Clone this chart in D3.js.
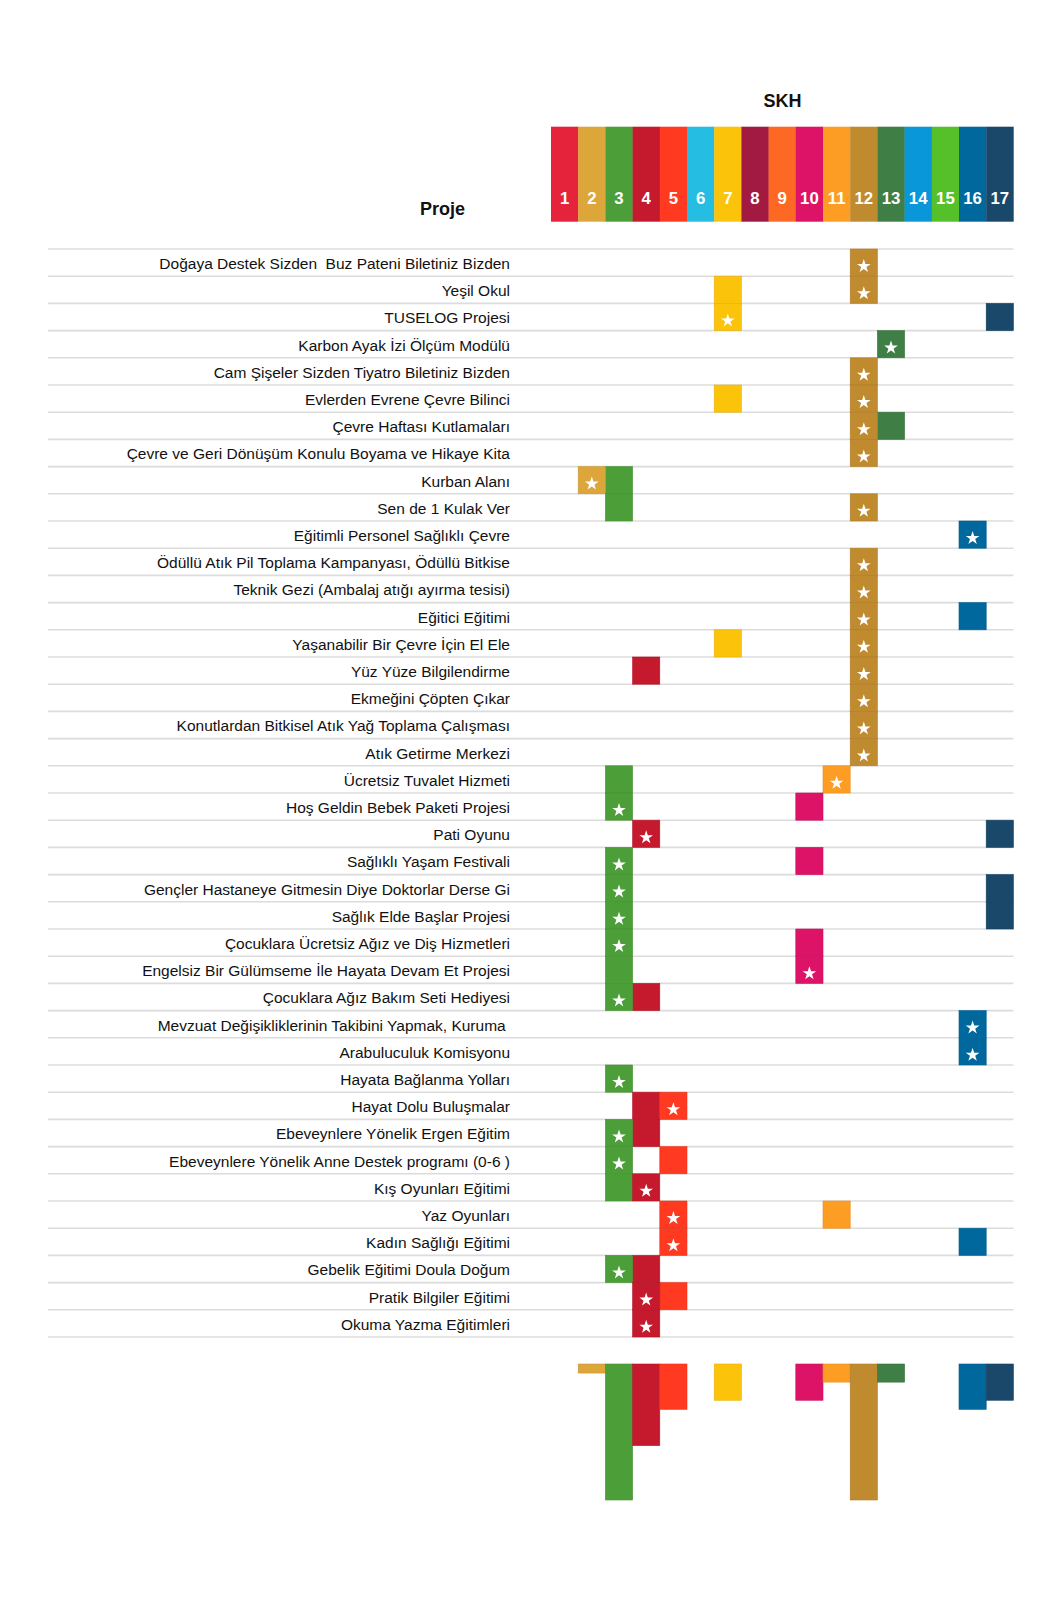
<!DOCTYPE html>
<html>
<head>
<meta charset="utf-8">
<script src="https://cdn.jsdelivr.net/npm/d3@7"></script>
<style>
  html, body { margin: 0; padding: 0; background: #fff; }
  svg { display: block; font-family: "Liberation Sans", Arial, sans-serif; }
  text { white-space: pre; }
</style>
</head>
<body>
<svg id="chart" width="1062" height="1600"></svg>
<script>
// ---- DATA ----
const sdgs = [1,2,3,4,5,6,7,8,9,10,11,12,13,14,15,16,17];
const sdgColors = ["#E5243B","#DDA63A","#4C9F38","#C5192D","#FF3A21","#26BDE2","#FCC30B","#A21942","#FD6925","#DD1367","#FD9D24","#BF8B2E","#3F7E44","#0A97D9","#56C02B","#00689D","#19486A"];
const projects = [
  "Doğaya Destek Sizden  Buz Pateni Biletiniz Bizden",
  "Yeşil Okul",
  "TUSELOG Projesi",
  "Karbon Ayak İzi Ölçüm Modülü",
  "Cam Şişeler Sizden Tiyatro Biletiniz Bizden",
  "Evlerden Evrene Çevre Bilinci",
  "Çevre Haftası Kutlamaları",
  "Çevre ve Geri Dönüşüm Konulu Boyama ve Hikaye Kita",
  "Kurban Alanı",
  "Sen de 1 Kulak Ver",
  "Eğitimli Personel Sağlıklı Çevre",
  "Ödüllü Atık Pil Toplama Kampanyası, Ödüllü Bitkise",
  "Teknik Gezi (Ambalaj atığı ayırma tesisi)",
  "Eğitici Eğitimi",
  "Yaşanabilir Bir Çevre İçin El Ele",
  "Yüz Yüze Bilgilendirme",
  "Ekmeğini Çöpten Çıkar",
  "Konutlardan Bitkisel Atık Yağ Toplama Çalışması",
  "Atık Getirme Merkezi",
  "Ücretsiz Tuvalet Hizmeti",
  "Hoş Geldin Bebek Paketi Projesi",
  "Pati Oyunu",
  "Sağlıklı Yaşam Festivali",
  "Gençler Hastaneye Gitmesin Diye Doktorlar Derse Gi",
  "Sağlık Elde Başlar Projesi",
  "Çocuklara Ücretsiz Ağız ve Diş Hizmetleri",
  "Engelsiz Bir Gülümseme İle Hayata Devam Et Projesi",
  "Çocuklara Ağız Bakım Seti Hediyesi",
  "Mevzuat Değişikliklerinin Takibini Yapmak, Kuruma ",
  "Arabuluculuk Komisyonu",
  "Hayata Bağlanma Yolları",
  "Hayat Dolu Buluşmalar",
  "Ebeveynlere Yönelik Ergen Eğitim",
  "Ebeveynlere Yönelik Anne Destek programı (0-6 )",
  "Kış Oyunları Eğitimi",
  "Yaz Oyunları",
  "Kadın Sağlığı Eğitimi",
  "Gebelik Eğitimi Doula Doğum",
  "Pratik Bilgiler Eğitimi",
  "Okuma Yazma Eğitimleri"
];
// primary SDG (marked with a star) for each project
const starSdg = [12,12,7,13,12,12,12,12,2,12,16,12,12,12,12,12,12,12,12,11,3,4,3,3,3,3,10,3,16,16,3,5,3,3,4,5,5,3,4,4];
// other related SDGs for each project
const otherSdgs = [[],[7],[17],[],[],[7],[13],[],[3],[3],[],[],[],[16],[7],[4],[],[],[],[3],[10],[17],[10],[17],[17],[10],[3],[4],[],[],[],[4],[4],[5],[3],[11],[16],[4],[5],[]];
const headerTitle = "SKH";
const rowTitle = "Proje";

// ---- LAYOUT ----
const svg = d3.select("#chart");
const x = d3.scaleBand().domain(sdgs).range([551, 1013.4]);
const y = d3.scaleBand().domain(d3.range(projects.length)).range([249, 1337]);
const color = d3.scaleOrdinal().domain(sdgs).range(sdgColors);
const cw = x.bandwidth(), ch = y.bandwidth();

// cells
const cells = [];
projects.forEach((p, i) => {
  otherSdgs[i].forEach(s => cells.push({row: i, sdg: s, star: false}));
  cells.push({row: i, sdg: starSdg[i], star: true});
});
const totals = sdgs.map(s => cells.filter(c => c.sdg === s).length);
const hScale = d3.scaleLinear().domain([0, 1]).range([0, ch / 3]);

// titles
svg.append("text").attr("x", 782.5).attr("y", 106.5).attr("text-anchor", "middle")
  .attr("font-weight", "bold").attr("font-size", 18).attr("fill", "#111").text(headerTitle);
svg.append("text").attr("x", 442.5).attr("y", 215).attr("text-anchor", "middle")
  .attr("font-weight", "bold").attr("font-size", 18).attr("fill", "#111").text(rowTitle);

// header columns
const hdr = svg.append("g");
hdr.selectAll("rect").data(sdgs).join("rect")
  .attr("x", d => x(d)).attr("y", 126.7).attr("width", cw + 0.3).attr("height", 95)
  .attr("fill", d => color(d));
hdr.selectAll("text").data(sdgs).join("text")
  .attr("x", d => x(d) + cw / 2).attr("y", 204).attr("text-anchor", "middle")
  .attr("font-weight", "bold").attr("font-size", 16.8).attr("fill", "#fff").text(d => d);

// row grid lines
svg.append("g").selectAll("line").data(d3.range(projects.length + 1)).join("line")
  .attr("x1", 48).attr("x2", 1013.4)
  .attr("y1", d => 249 + d * ch).attr("y2", d => 249 + d * ch)
  .attr("stroke", "#dcdcdc").attr("stroke-width", 1.6);

// labels
svg.append("g").selectAll("text").data(projects).join("text")
  .attr("x", 510).attr("y", (d, i) => y(i) + 20).attr("text-anchor", "end")
  .attr("font-size", 15.5).attr("fill", "#111").text(d => d);

// cells
const cg = svg.append("g");
cg.selectAll("rect").data(cells).join("rect")
  .attr("x", d => x(d.sdg)).attr("y", d => y(d.row))
  .attr("width", cw).attr("height", ch)
  .attr("fill", d => color(d.sdg))
  .attr("stroke", d => d3.color(color(d.sdg)).darker(0.25))
  .attr("stroke-width", 0.6);
const star = d3.symbol(d3.symbolStar).size(58);
cg.selectAll("path").data(cells.filter(c => c.star)).join("path")
  .attr("d", star)
  .attr("transform", d => `translate(${x(d.sdg) + cw / 2},${y(d.row) + 17.2})`)
  .attr("fill", "#fff");

// totals bars
svg.append("g").selectAll("rect").data(sdgs.filter((s, i) => totals[i] > 0)).join("rect")
  .attr("x", d => x(d)).attr("y", 1364)
  .attr("width", cw).attr("height", d => hScale(totals[d - 1]))
  .attr("fill", d => color(d))
  .attr("stroke", d => d3.color(color(d)).darker(0.25))
  .attr("stroke-width", 0.6);
</script>
</body>
</html>
